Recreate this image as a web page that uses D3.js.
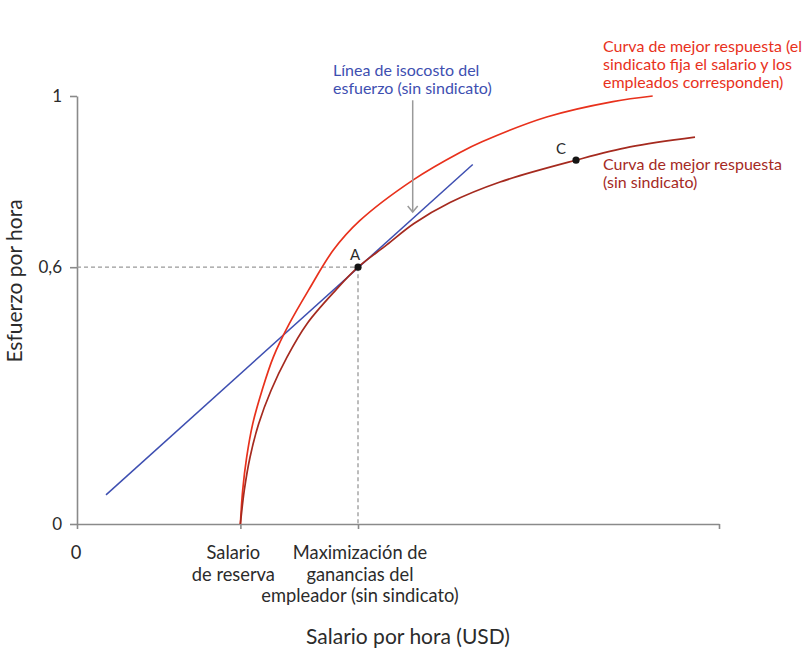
<!DOCTYPE html>
<html>
<head>
<meta charset="utf-8">
<script src="https://cdn.jsdelivr.net/npm/d3@7"></script>
<style>
  html, body { margin: 0; padding: 0; background: #fff; }
  svg { display: block; font-family: Lato, "Noto Sans", sans-serif; }
</style>
</head>
<body>
<svg id="chart" width="810" height="662"></svg>
<script>
// ---- data ----
const effortTicks = [0, 0.6, 1];
const effortTickLabels = ["0", "0,6", "1"];
const wageTicks = [0, 25.45, 43.77, 100];
const wageTickLabels = [
  ["0"],
  ["Salario", "de reserva"],
  ["Maximización de", "ganancias del", "empleador (sin sindicato)"],
  []
];
// best response curve without union: [wage, effort]
const brNoUnion = [
  [25.45, 0], [26.06, 0.079], [26.95, 0.156], [28.30, 0.234], [30.22, 0.312],
  [32.71, 0.390], [35.83, 0.468], [40.34, 0.547], [43.77, 0.600], [48.24, 0.652],
  [52.49, 0.702], [58.10, 0.751], [65.89, 0.799], [77.73, 0.850], [86.14, 0.881],
  [96.26, 0.904]
];
// best response curve when the union sets the wage and employees respond
const brUnion = [
  [25.45, 0], [25.81, 0.079], [26.43, 0.156], [27.37, 0.234], [28.82, 0.312],
  [30.58, 0.390], [33.07, 0.468], [36.09, 0.547], [39.93, 0.640], [44.0, 0.708],
  [52.38, 0.804], [59.66, 0.868], [63.08, 0.893], [73.16, 0.951], [83.49, 0.987],
  [89.67, 1.0]
];
// effort isocost line (no union)
const isocost = [[4.52, 0.068], [61.64, 0.840]];
const pointNames = ["A", "C"];
const pointWages = [43.77, 77.73];
const pointEfforts = [0.6, 0.850];
// annotation arrow (wage, effort from -> to)
const arrowWage = [52.29, 52.29];
const arrowEffort = [0.99, 0.729];

// ---- layout ----
const svg = d3.select("#chart");
const x = d3.scaleLinear().domain([0, 100]).range([77, 719]);
const y = d3.scaleLinear().domain([0, 1]).range([524, 96]);

const axisColor = "#8a8a8a";
const textColor = "#2b2b2b";
const red = "#e8311c";
const darkRed = "#a52a1f";
const blue = "#3e4fb1";

// y axis
const yAxis = svg.append("g")
  .attr("transform", `translate(${x(0)},0)`)
  .call(d3.axisLeft(y).tickValues(effortTicks)
    .tickFormat((d, i) => effortTickLabels[i])
    .tickSize(7).tickSizeOuter(0).tickPadding(8));
yAxis.select(".domain").attr("stroke", axisColor).attr("stroke-width", 1.6);
yAxis.selectAll(".tick line").attr("stroke", axisColor).attr("stroke-width", 1.6);
yAxis.selectAll(".tick text").attr("fill", textColor).style("font-size", "17px")
  .style("font-family", "Lato, sans-serif");

// x axis
const xAxis = svg.append("g")
  .attr("transform", `translate(0,${y(0)})`)
  .call(d3.axisBottom(x).tickValues(wageTicks).tickFormat("")
    .tickSize(5).tickSizeOuter(0));
xAxis.select(".domain").attr("stroke", axisColor).attr("stroke-width", 1.6);
xAxis.selectAll(".tick line").attr("stroke", axisColor).attr("stroke-width", 1.6);

// x tick labels (multi-line)
const labelShift = [-1, -7, 2, 0];
const xl = svg.append("g").attr("fill", textColor).style("font-size", "18.3px");
wageTicks.forEach((w, i) => {
  const t = xl.append("text").attr("text-anchor", "middle");
  wageTickLabels[i].forEach((line, j) => {
    t.append("tspan").attr("x", x(w) + labelShift[i]).attr("y", 559 + j * 21.5).text(line);
  });
});

// dashed guide lines through A
const gd = svg.append("g").attr("stroke", "#999").attr("stroke-width", 1.3)
  .attr("stroke-dasharray", "4,3").attr("fill", "none");
gd.append("line").attr("x1", x(0)).attr("y1", y(pointEfforts[0]))
  .attr("x2", x(pointWages[0])).attr("y2", y(pointEfforts[0]));
gd.append("line").attr("x1", x(pointWages[0])).attr("y1", y(pointEfforts[0]))
  .attr("x2", x(pointWages[0])).attr("y2", y(0));

// curves
const line = d3.line().x(d => x(d[0])).y(d => y(d[1])).curve(d3.curveCatmullRom.alpha(0.5));
svg.append("path").datum(isocost).attr("d", d3.line().x(d => x(d[0])).y(d => y(d[1])))
  .attr("fill", "none").attr("stroke", blue).attr("stroke-width", 1.5);
svg.append("path").datum(brUnion).attr("d", line)
  .attr("fill", "none").attr("stroke", red).attr("stroke-width", 1.7);
svg.append("path").datum(brNoUnion).attr("d", line)
  .attr("fill", "none").attr("stroke", darkRed).attr("stroke-width", 1.7);

// points
pointNames.forEach((n, i) => {
  svg.append("circle").attr("cx", x(pointWages[i])).attr("cy", y(pointEfforts[i]))
    .attr("r", 3.6).attr("fill", "#151515");
});
svg.append("text").attr("x", x(pointWages[0]) - 3).attr("y", 260).attr("text-anchor", "middle")
  .attr("fill", textColor).style("font-size", "15px").text(pointNames[0]);
svg.append("text").attr("x", x(pointWages[1]) - 15).attr("y", 154).attr("text-anchor", "middle")
  .attr("fill", textColor).style("font-size", "15px").text(pointNames[1]);

// arrow
const ax = x(arrowWage[0]), ay1 = y(arrowEffort[0]), ay2 = y(arrowEffort[1]);
const ga = svg.append("g").attr("stroke", "#9a9a9a").attr("stroke-width", 1.5).attr("fill", "none");
ga.append("line").attr("x1", ax).attr("y1", ay1).attr("x2", ax).attr("y2", ay2);
ga.append("path").attr("d", `M${ax - 5},${ay2 - 6}L${ax},${ay2}L${ax + 5},${ay2 - 6}`);

// annotations
function multi(lines, x0, y0, dy, color) {
  const t = svg.append("text").attr("fill", color).style("font-size", "16px");
  lines.forEach((l, j) => t.append("tspan").attr("x", x0).attr("y", y0 + j * dy).text(l));
}
multi(["Línea de isocosto del", "esfuerzo (sin sindicato)"], 333, 75.5, 18.5, blue);
multi(["Curva de mejor respuesta (el", "sindicato fija el salario y los", "empleados corresponden)"], 603, 51.5, 18.4, red);
multi(["Curva de mejor respuesta", "(sin sindicato)"], 603, 170, 18.4, darkRed);

// axis titles
svg.append("text").attr("x", 408).attr("y", 644).attr("text-anchor", "middle")
  .attr("fill", textColor).style("font-size", "21px").text("Salario por hora (USD)");
svg.append("text").attr("transform", "translate(21.5,281) rotate(-90)").attr("text-anchor", "middle")
  .attr("fill", textColor).style("font-size", "21px").text("Esfuerzo por hora");
</script>
</body>
</html>
